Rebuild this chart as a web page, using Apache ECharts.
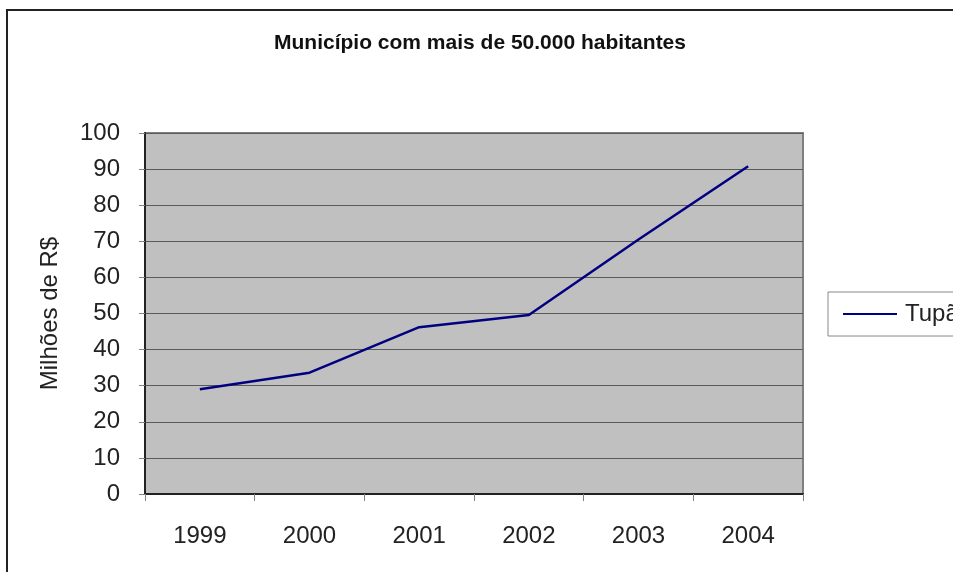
<!DOCTYPE html>
<html>
<head>
<meta charset="utf-8">
<script src="https://cdn.jsdelivr.net/npm/echarts@6/dist/echarts.min.js"></script>
<style>
  html, body { margin: 0; padding: 0; background: #fff; }
  #chart { width: 953px; height: 572px; }
</style>
</head>
<body>
<div id="chart"></div>
<script>
// dados do gráfico
const anos = ['1999', '2000', '2001', '2002', '2003', '2004'];
const tupa = [29.0, 33.6, 46.2, 49.6, 70.5, 90.8];
const serieNome = 'Tupã';
const titulo = 'Município com mais de 50.000 habitantes';
const eixoY = 'Milhões de R$';

const chart = echarts.init(document.getElementById('chart'));
const fonte = '"Liberation Sans", Arial, sans-serif';

const option = {
    animation: false,
    textStyle: { fontFamily: fonte },
    title: {
        text: titulo,
        left: 480,
        textAlign: 'center',
        top: 33,
        padding: 0,
        textStyle: { fontSize: 21, fontWeight: 'bold', color: '#111', fontFamily: fonte }
    },
    // moldura externa
    graphic: [{
        type: 'rect',
        shape: { x: 7, y: 10, width: 1000, height: 620 },
        style: { fill: 'none', stroke: '#222', lineWidth: 2 },
        silent: true
    }],
    legend: {
        left: 828,
        top: 292,
        orient: 'vertical',
        padding: [10, 40, 10, 15],
        borderColor: '#888',
        borderWidth: 1,
        itemWidth: 54,
        itemHeight: 14,
        icon: 'path://M0,6 L54,6 L54,8 L0,8 Z',
        data: [serieNome],
        textStyle: { fontSize: 24, color: '#222', fontFamily: fonte, padding: [0, 0, 0, 3] }
    },
    grid: {
        left: 145,
        top: 133,
        width: 658,
        height: 361,
        show: true,
        backgroundColor: '#C0C0C0',
        borderColor: '#808080',
        borderWidth: 2
    },
    xAxis: {
        type: 'category',
        data: anos,
        boundaryGap: true,
        axisLine: { lineStyle: { color: '#222', width: 2 } },
        axisTick: { show: true, length: 7, lineStyle: { color: '#808080' } },
        axisLabel: { fontSize: 24, color: '#222', margin: 30 },
        splitLine: { show: false }
    },
    yAxis: {
        type: 'value',
        min: 0,
        max: 100,
        interval: 10,
        name: eixoY,
        nameLocation: 'middle',
        nameGap: 83,
        nameTextStyle: { fontSize: 24, color: '#222' },
        axisLine: { show: true, lineStyle: { color: '#222', width: 2 } },
        axisTick: { show: true, length: 6, lineStyle: { color: '#808080' } },
        axisLabel: { fontSize: 24, color: '#222', margin: 25, padding: [4, 0, 0, 0] },
        splitLine: { show: true, lineStyle: { color: '#5a5a5a', width: 1 } }
    },
    series: [{
        name: serieNome,
        type: 'line',
        data: tupa,
        symbol: 'none',
        lineStyle: { color: '#000080', width: 2.5 },
        itemStyle: { color: '#000080' }
    }]
};

chart.setOption(option);
</script>
</body>
</html>
